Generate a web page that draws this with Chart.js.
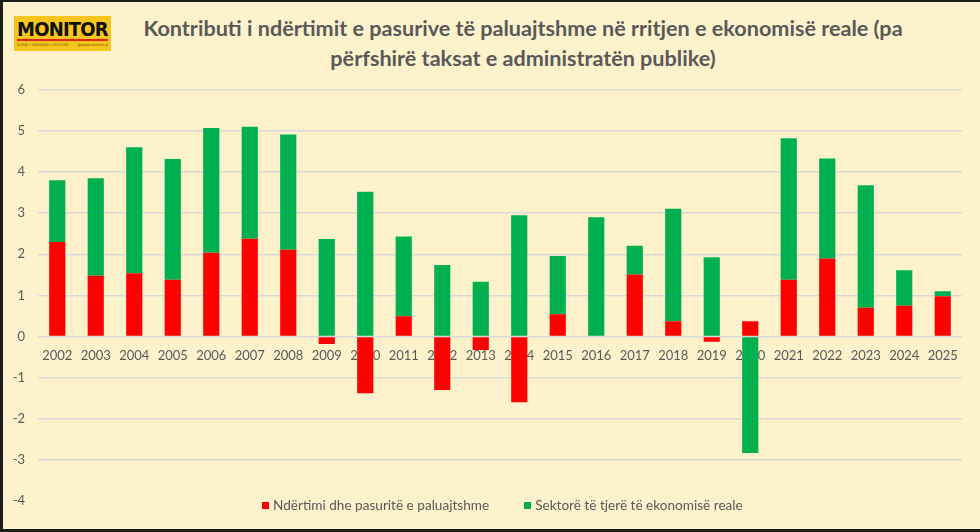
<!DOCTYPE html>
<html>
<head>
<meta charset="utf-8">
<script src="https://cdn.jsdelivr.net/npm/chart.js@4.4.1/dist/chart.umd.min.js"></script>
<style>
  html, body { margin: 0; padding: 0; }
  body { width: 980px; height: 532px; overflow: hidden; }
  #frame {
    position: relative; width: 980px; height: 532px; box-sizing: border-box;
    background: #fef2cc;
    border-left: 3px solid #1c1c1c; border-top: 2px solid #1c1c1c; border-bottom: 3px solid #1c1c1c;
  }
  #logo {
    position: absolute; left: 11px; top: 14px; width: 97px; height: 35px;
    background: #f8c51c;
  }
  #logo .name {
    position: absolute; left: 3px; top: 1px; width: 91px; text-align: center;
    font: bold 20px "DejaVu Sans Condensed", "DejaVu Sans", sans-serif; color: #111;
    letter-spacing: -0.8px;
  }
  #logo .bar { position: absolute; left: 3px; top: 23px; width: 91px; height: 2px; background: #e8231b; }
  #logo .sub {
    position: absolute; left: 3px; top: 27px; width: 91px; display: flex; justify-content: space-between;
    font: 3.5px "DejaVu Sans", sans-serif; color: #6a5a20; white-space: nowrap;
  }
  #title {
    position: absolute; left: 60px; top: 11px; width: 920px; text-align: center;
    font: bold 21.6px Lato, sans-serif; color: #595959; line-height: 30px;
  }
  #chartBox { position: absolute; left: 0; top: 67px; width: 977px; height: 460px; }
  #legend {
    position: absolute; left: 259px; top: 495px; display: flex; gap: 35px;
    font: 13.6px Lato, sans-serif; color: #595959;
  }
  #legend span.box { display: inline-block; width: 7px; height: 7px; margin-right: 4px; vertical-align: 1px; }
</style>
</head>
<body>
<div id="frame">
  <div id="logo">
    <div class="name">MONITOR</div>
    <div class="bar"></div>
    <div class="sub"><span>DOSJE • EKONOMI • POLITIKË</span><span>@www.monitor.al</span></div>
  </div>
  <div id="title">Kontributi i ndërtimit e pasurive të paluajtshme në rritjen e ekonomisë reale (pa<br>përfshirë taksat e administratën publike)</div>
  <div id="chartBox"><canvas id="myChart"></canvas></div>
  <div id="legend"></div>
</div>
<script>
const years = ["2002", "2003", "2004", "2005", "2006", "2007", "2008", "2009", "2010", "2011", "2012", "2013",
  "2014", "2015", "2016", "2017", "2018", "2019", "2020", "2021", "2022", "2023", "2024", "2025"];

const seriesNames = ["Ndërtimi dhe pasuritë e paluajtshme", "Sektorë të tjerë të ekonomisë reale"];

const construction = [2.30, 1.48, 1.54, 1.38, 2.04, 2.38, 2.11, -0.18, -1.38, 0.49, -1.30, -0.33,
  -1.60, 0.54, 0.00, 1.51, 0.37, -0.13, 0.37, 1.38, 1.90, 0.70, 0.75, 0.98];

const otherSectors = [1.50, 2.37, 3.06, 2.94, 3.03, 2.72, 2.80, 2.37, 3.52, 1.94, 1.74, 1.33,
  2.95, 1.42, 2.90, 0.70, 2.74, 1.93, -2.83, 3.44, 2.43, 2.98, 0.86, 0.12];

const yTicks = [6, 5, 4, 3, 2, 1, 0, -1, -2, -3, -4];

const colors = ["#ff0000", "#00b050"];

// legend as html so it can sit where the original one is
const legend = document.getElementById("legend");
seriesNames.forEach((name, i) => {
  const item = document.createElement("div");
  item.innerHTML = '<span class="box" style="background:' + colors[i] + '"></span>' + name;
  legend.appendChild(item);
});

const ctx = document.getElementById("myChart");

new Chart(ctx, {
  type: "bar",
  data: {
    labels: years,
    datasets: [
      {
        label: seriesNames[0],
        data: construction,
        backgroundColor: colors[0],
        barPercentage: 0.42,
        categoryPercentage: 1,
      },
      {
        label: seriesNames[1],
        data: otherSectors,
        backgroundColor: colors[1],
        barPercentage: 0.42,
        categoryPercentage: 1,
      },
    ],
  },
  options: {
    responsive: true,
    maintainAspectRatio: false,
    animation: false,
    layout: { padding: { left: 0, right: 18, top: 0, bottom: 28 } },
    plugins: {
      legend: { display: false },
      tooltip: { enabled: false },
    },
    scales: {
      x: {
        stacked: true,
        position: { y: 0 },
        grid: { display: false, drawTicks: false },
        border: { display: false },
        ticks: {
          color: "#595959",
          font: { family: "Lato", size: 13 },
          padding: 11,
          maxRotation: 0,
          autoSkip: false,
        },
      },
      y: {
        stacked: true,
        min: -4,
        max: 6,
        afterFit: (scale) => { scale.width = 35; },
        afterBuildTicks: (scale) => { scale.ticks = yTicks.map((v) => ({ value: v })); },
        grid: {
          drawTicks: false,
          color: (c) => (c.tick && c.tick.value === -4 ? "rgba(0,0,0,0)" : "#d9d9d9"),
          lineWidth: 1.5,
        },
        border: { display: false },
        ticks: {
          color: "#595959",
          font: { family: "Lato", size: 13 },
          padding: 13,
        },
      },
    },
  },
});
</script>
</body>
</html>
